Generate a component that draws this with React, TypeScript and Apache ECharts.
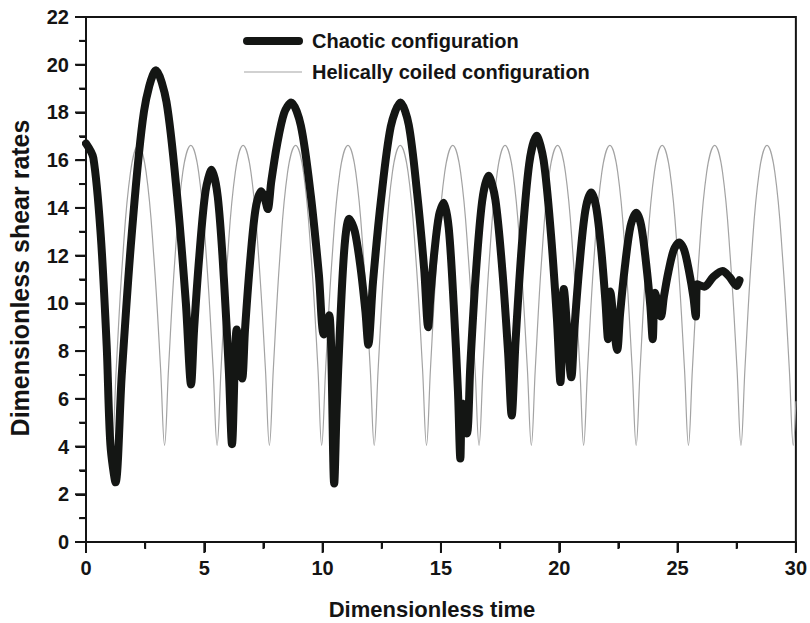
import React, { useEffect, useRef } from 'react';
import * as echarts from 'echarts';

const FONT = "'Liberation Sans', Arial, Helvetica, sans-serif";

const xTicks = [0, 5, 10, 15, 20, 25, 30];
const xMinorTicks = [2.5, 7.5, 12.5, 17.5, 22.5, 27.5];
const yTicks = [0, 2, 4, 6, 8, 10, 12, 14, 16, 18, 20, 22];
const yMinorTicks = [1, 3, 5, 7, 9, 11, 13, 15, 17, 19, 21];

const seriesNames = ['Chaotic configuration', 'Helically coiled configuration'];

const chaoticT = [
  0, 0.31, 0.62, 0.875, 1.03, 1.25, 1.51, 1.93, 2.45, 2.96,
  3.4, 3.85, 4.22, 4.44, 4.57, 4.79, 5.05, 5.31, 5.57, 5.83,
  6.04, 6.17, 6.37, 6.6, 6.72, 6.92, 7.16, 7.4, 7.54, 7.68,
  7.83, 8.07, 8.37, 8.67, 9.08, 9.5, 9.84, 10.05, 10.28, 10.49,
  10.585, 10.74, 10.93, 11.12, 11.36, 11.61, 11.81, 11.93, 12.13, 12.47,
  12.88, 13.29, 13.64, 13.99, 14.29, 14.46, 14.56, 14.72, 14.92, 15.12,
  15.33, 15.54, 15.72, 15.82, 15.9, 16.1, 16.24, 16.46, 16.74, 17.01,
  17.3, 17.6, 17.84, 17.99, 18.15, 18.41, 18.73, 19.04, 19.34, 19.65,
  19.9, 20.05, 20.19, 20.51, 20.64, 20.85, 21.1, 21.35, 21.56, 21.78,
  21.95, 22.06, 22.15, 22.45, 22.57, 22.77, 23.01, 23.25, 23.46, 23.67,
  23.85, 23.95, 24.05, 24.3, 24.42, 24.61, 24.84, 25.07, 25.28, 25.49,
  25.67, 25.77, 25.84, 26.13, 26.5, 26.9, 27.2, 27.5, 27.62,
];
const chaoticY = [
  16.7, 16.1, 12.9, 8.2, 4.1, 2.5, 6.99, 12.86, 18.04, 19.77,
  18.45, 14.5, 10.02, 6.6, 8.94, 12.0, 14.7, 15.6, 14.45, 11.0,
  7.09, 4.1, 8.9, 6.85, 8.89, 11.56, 13.92, 14.7, 14.45, 13.95,
  15.11, 16.63, 17.97, 18.42, 17.45, 14.53, 11.23, 8.7, 9.5, 2.45,
  5.34, 9.11, 12.44, 13.55, 13.02, 11.44, 9.64, 8.27, 10.91, 14.36,
  17.41, 18.42, 17.48, 14.65, 11.45, 9.0, 10.36, 12.13, 13.7, 14.22,
  13.15, 9.93, 6.29, 3.5, 5.8, 4.55, 7.36, 11.03, 14.27, 15.35,
  14.35, 11.33, 7.91, 5.3, 8.35, 12.33, 15.85, 17.02, 15.99, 12.89,
  9.38, 6.7, 10.6, 6.9, 8.92, 11.55, 13.88, 14.65, 14.04, 12.19,
  10.1, 8.5, 10.5, 8.05, 9.55, 11.5, 13.23, 13.8, 13.27, 11.68,
  9.88, 8.5, 10.45, 9.45, 10.26, 11.31, 12.24, 12.55, 12.24, 11.31,
  10.26, 9.45, 10.8, 10.7, 11.1, 11.36, 11.1, 10.73, 10.97,
];

const helicalT = [
  0, 0.33, 0.66, 0.94, 1.11, 1.28, 1.55, 1.88,
  2.21, 2.54, 2.87, 3.15, 3.32, 3.49, 3.76, 4.09,
  4.43, 4.76, 5.09, 5.37, 5.54, 5.71, 5.98, 6.31,
  6.64, 6.97, 7.3, 7.58, 7.75, 7.92, 8.19, 8.52,
  8.86, 9.19, 9.52, 9.8, 9.96, 10.13, 10.4, 10.73,
  11.07, 11.4, 11.73, 12.01, 12.18, 12.35, 12.62, 12.95,
  13.28, 13.61, 13.94, 14.22, 14.39, 14.56, 14.83, 15.16,
  15.5, 15.83, 16.16, 16.44, 16.61, 16.78, 17.05, 17.38,
  17.71, 18.04, 18.37, 18.65, 18.82, 18.99, 19.26, 19.59,
  19.93, 20.26, 20.59, 20.87, 21.03, 21.2, 21.47, 21.8,
  22.14, 22.47, 22.8, 23.08, 23.25, 23.42, 23.69, 24.02,
  24.35, 24.68, 25.01, 25.29, 25.46, 25.63, 25.9, 26.23,
  26.57, 26.9, 27.23, 27.51, 27.68, 27.85, 28.12, 28.45,
  28.78, 29.11, 29.44, 29.72, 29.89, 30,
];
const helicalY = [
  16.62, 15.5, 11.9, 7.3, 4.05, 7.3, 11.9, 15.5,
  16.62, 15.5, 11.9, 7.3, 4.05, 7.3, 11.9, 15.5,
  16.62, 15.5, 11.9, 7.3, 4.05, 7.3, 11.9, 15.5,
  16.62, 15.5, 11.9, 7.3, 4.05, 7.3, 11.9, 15.5,
  16.62, 15.5, 11.9, 7.3, 4.05, 7.3, 11.9, 15.5,
  16.62, 15.5, 11.9, 7.3, 4.05, 7.3, 11.9, 15.5,
  16.62, 15.5, 11.9, 7.3, 4.05, 7.3, 11.9, 15.5,
  16.62, 15.5, 11.9, 7.3, 4.05, 7.3, 11.9, 15.5,
  16.62, 15.5, 11.9, 7.3, 4.05, 7.3, 11.9, 15.5,
  16.62, 15.5, 11.9, 7.3, 4.05, 7.3, 11.9, 15.5,
  16.62, 15.5, 11.9, 7.3, 4.05, 7.3, 11.9, 15.5,
  16.62, 15.5, 11.9, 7.3, 4.05, 7.3, 11.9, 15.5,
  16.62, 15.5, 11.9, 7.3, 4.05, 7.3, 11.9, 15.5,
  16.62, 15.5, 11.9, 7.3, 4.05, 5.9,
];

const xTitle = 'Dimensionless time';
const yTitle = 'Dimensionless shear rates';

const AXIS_COLOR = '#141414';
const CHAOTIC_COLOR = '#141614';
const HELICAL_COLOR = '#a3a3a3';

function tickSeries(kind: 'x' | 'y', values: number[], len: number) {
  return {
    type: 'custom',
    clip: false,
    silent: true,
    z: 50,
    data: values.map((v) => (kind === 'x' ? [v, 0] : [0, v])),
    renderItem: (_p: any, api: any) => {
      const p = api.coord([api.value(0), api.value(1)]);
      const shape =
        kind === 'x'
          ? { x: p[0] - 1, y: p[1], width: 2, height: len + 1 }
          : { x: p[0] - len - 1, y: p[1] - 1, width: len + 1, height: 2 };
      return { type: 'rect', shape, style: { fill: AXIS_COLOR } };
    },
  };
}

export default function App() {
  const ref = useRef<HTMLDivElement>(null);

  useEffect(() => {
    if (!ref.current) return;
    const chart = echarts.init(ref.current, null, { renderer: 'svg' });
    const chaotic = chaoticT.map((t, i) => [t, chaoticY[i]]);
    const helical = helicalT.map((t, i) => [t, helicalY[i]]);

    chart.setOption({
      animation: false,
      backgroundColor: '#ffffff',
      grid: { left: 86, right: 12, top: 17, bottom: 81, show: true, borderColor: AXIS_COLOR, borderWidth: 2 },
      xAxis: {
        type: 'value',
        min: xTicks[0],
        max: xTicks[xTicks.length - 1],
        interval: 5,
        axisLine: { show: true, onZero: false, lineStyle: { color: AXIS_COLOR, width: 2 } },
        axisTick: { show: true, inside: false, length: 10, lineStyle: { color: AXIS_COLOR, width: 2 } },
        minorTick: { show: true, splitNumber: 2, length: 6, lineStyle: { color: AXIS_COLOR, width: 2 } },
        splitLine: { show: false },
        axisLabel: { margin: 16, fontFamily: FONT, fontSize: 20, fontWeight: 'bold', color: AXIS_COLOR },
      },
      yAxis: {
        type: 'value',
        min: yTicks[0],
        max: yTicks[yTicks.length - 1],
        interval: 2,
        axisLine: { show: true, onZero: false, lineStyle: { color: AXIS_COLOR, width: 2 } },
        axisTick: { show: true, inside: false, length: 10, lineStyle: { color: AXIS_COLOR, width: 2 } },
        minorTick: { show: true, splitNumber: 2, length: 6, lineStyle: { color: AXIS_COLOR, width: 2 } },
        splitLine: { show: false },
        axisLabel: { margin: 17, fontFamily: FONT, fontSize: 20, fontWeight: 'bold', color: AXIS_COLOR },
      },
      series: [
        {
          name: seriesNames[1],
          type: 'line',
          data: helical,
          symbol: 'none',
          smooth: 0.4,
          lineStyle: { width: 1.2, color: HELICAL_COLOR },
        },
        {
          name: seriesNames[0],
          type: 'line',
          data: chaotic,
          symbol: 'none',
          smooth: 0.3,
          lineStyle: { width: 8, color: CHAOTIC_COLOR, cap: 'round', join: 'round' },
        },
        tickSeries('x', xTicks, 10),
        tickSeries('x', xMinorTicks, 6),
        tickSeries('y', yTicks, 10),
        tickSeries('y', yMinorTicks, 6),
      ],
    });

    chart.setOption({
      graphic: [
        {
          type: 'line',
          z: 100,
          shape: { x1: 247, y1: 41, x2: 299, y2: 41 },
          style: { stroke: CHAOTIC_COLOR, lineWidth: 8, lineCap: 'round' },
        },
        {
          type: 'text',
          z: 100,
          x: 312,
          y: 41,
          style: {
            text: seriesNames[0],
            font: `bold 20px ${FONT}`,
            fill: AXIS_COLOR,
            align: 'left',
            verticalAlign: 'middle',
          },
        },
        {
          type: 'line',
          z: 100,
          shape: { x1: 244, y1: 72, x2: 302, y2: 72 },
          style: { stroke: HELICAL_COLOR, lineWidth: 1.2 },
        },
        {
          type: 'text',
          z: 100,
          x: 312,
          y: 72,
          style: {
            text: seriesNames[1],
            font: `bold 20px ${FONT}`,
            fill: AXIS_COLOR,
            align: 'left',
            verticalAlign: 'middle',
          },
        },
        {
          type: 'text',
          z: 100,
          x: 432,
          y: 609,
          style: {
            text: xTitle,
            font: `bold 22px ${FONT}`,
            fill: AXIS_COLOR,
            align: 'center',
            verticalAlign: 'middle',
          },
        },
        {
          type: 'text',
          z: 100,
          x: 20,
          y: 278,
          rotation: Math.PI / 2,
          style: {
            text: yTitle,
            font: `bold 25px ${FONT}`,
            fill: AXIS_COLOR,
            align: 'center',
            verticalAlign: 'middle',
          },
        },
      ],
    });

    return () => chart.dispose();
  }, []);

  return (
    <div
      ref={ref}
      style={{ position: 'fixed', left: 0, top: 0, width: 810, height: 623, background: '#fff' }}
    />
  );
}
